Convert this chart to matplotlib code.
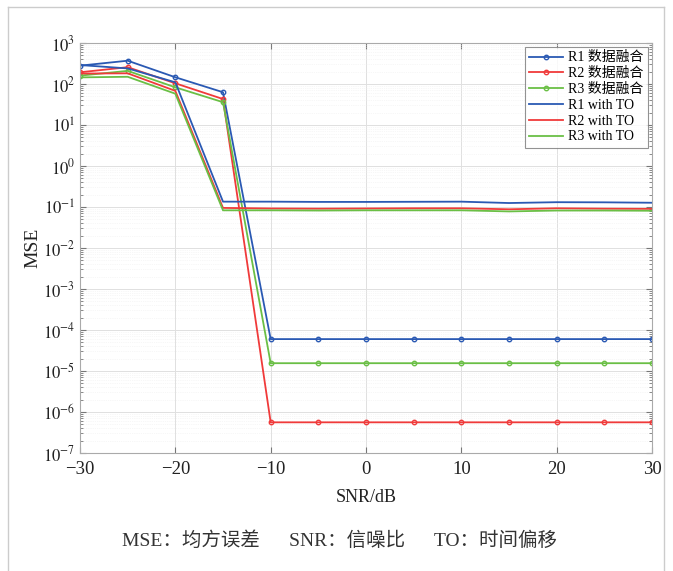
import matplotlib
matplotlib.use("Agg")
import matplotlib.pyplot as plt
from matplotlib.ticker import LogLocator, NullFormatter, FixedLocator
from matplotlib.lines import Line2D

plt.rcParams['font.family'] = ['Liberation Serif', 'Noto Sans CJK SC']
plt.rcParams['mathtext.fontset'] = 'stix'
plt.rcParams['axes.unicode_minus'] = True

snr = [-30, -25, -20, -15, -10, -5, 0, 5, 10, 15, 20, 25, 30]

r1_fusion = [280, 370, 146, 63] + [6e-5] * 9
r2_fusion = [193, 257, 104, 43] + [5.6e-7] * 9
r3_fusion = [160, 209, 83, 36] + [1.55e-5] * 9

r1_to = [290, 240, 110, 0.135, 0.135, 0.133, 0.133, 0.134, 0.135, 0.125, 0.131, 0.130, 0.127]
r2_to = [180, 182, 68, 0.095, 0.092, 0.091, 0.092, 0.093, 0.093, 0.088, 0.093, 0.091, 0.090]
r3_to = [145, 150, 58, 0.083, 0.083, 0.082, 0.083, 0.083, 0.083, 0.078, 0.082, 0.082, 0.081]

labels_fusion = ['R1 数据融合', 'R2 数据融合', 'R3 数据融合']
labels_to = ['R1 with TO', 'R2 with TO', 'R3 with TO']
colors = ['#2a59b3', '#f03a3a', '#6abf45']

fig = plt.figure(figsize=(6.73, 5.71), dpi=100)
ax = fig.add_axes([80/673, 1-453/571, (652-80)/673, (453-43)/571])

handles = []
for vals, lab, c in zip([r1_fusion, r2_fusion, r3_fusion], labels_fusion, colors):
    h, = ax.semilogy(snr, vals, '-o', color=c, lw=1.3, ms=3.2, mfc='none', mew=1.0, label=lab)
    handles.append(h)
for vals, lab, c in zip([r1_to, r2_to, r3_to], labels_to, colors):
    h, = ax.semilogy(snr, vals, '-', color=c, lw=1.3, label=lab)
    handles.append(h)

ax.set_xlim(-30, 30)
ax.set_ylim(1e-7, 1e3)
ax.set_xticks([-30, -20, -10, 0, 10, 20, 30])
ax.yaxis.set_major_locator(FixedLocator([10.0**k for k in range(-7, 4)]))
ax.yaxis.set_minor_locator(LogLocator(base=10, subs=range(2, 10), numticks=50))
ax.yaxis.set_minor_formatter(NullFormatter())
ax.set_yticklabels([r'$10^{%d}$' % k for k in range(-7, 4)])

ax.grid(True, which='major', color='#e0e0e0', lw=0.7)
ax.grid(True, which='minor', axis='y', color='#efefef', lw=0.5, ls=':')
ax.set_axisbelow(True)
ax.tick_params(which='both', direction='in', top=True, right=True, color='#777777')
ax.tick_params(which='major', length=4, labelsize=13.5, labelcolor='#222222')
ax.tick_params(axis='x', which='major', pad=6)
ax.tick_params(axis='y', which='major', labelsize=12)
ax.tick_params(which='minor', length=2)
for s in ax.spines.values():
    s.set_color('#aaaaaa')
    s.set_linewidth(0.8)

ax.set_ylabel('MSE', fontsize=14, color='#222222', labelpad=1)
ax.set_xlabel('SNR/dB', fontsize=13, color='#222222', labelpad=8)

leg = ax.legend(handles=handles, loc='upper right', fontsize=10, frameon=True,
                fancybox=False, edgecolor='#777777', handlelength=2.4,
                handletextpad=0.4, labelspacing=0.2, borderpad=0.3,
                borderaxespad=0.3, markerfirst=True)
leg.get_frame().set_linewidth(0.8)

fig.text(340/673, 1-541/571, 'MSE：均方误差      SNR：信噪比      TO：时间偏移',
         ha='center', va='center', fontsize=14, color='#333333')

# outer frame (left, top, right)
fig.add_artist(Line2D([8/673, 8/673], [0, 1-7/571], transform=fig.transFigure, color='#cccccc', lw=1))
fig.add_artist(Line2D([8/673, 664/673], [1-7/571, 1-7/571], transform=fig.transFigure, color='#cccccc', lw=1))
fig.add_artist(Line2D([664/673, 664/673], [0, 1-7/571], transform=fig.transFigure, color='#cccccc', lw=1))

fig.savefig('out.png', dpi=100)
